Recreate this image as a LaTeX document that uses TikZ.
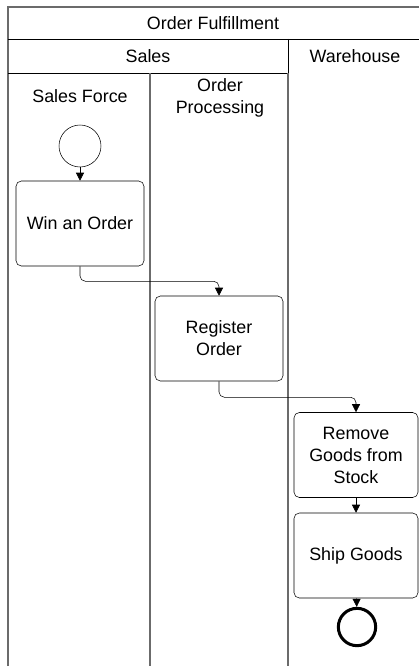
\documentclass[tikz,border=0pt]{standalone}
\usepackage{fontspec}
\setmainfont{Liberation Sans}
\usetikzlibrary{arrows.meta}
\definecolor{lanegray}{gray}{0.42}

\begin{document}
\begin{tikzpicture}[x=0.75pt, y=-0.75pt, >={Triangle[length=6pt,width=6pt]},
    lbl/.style={font=\fontsize{13.4}{16.5}\selectfont, align=center, inner sep=0pt},
    task/.style={lbl, draw, rounded corners=4pt, minimum height=63.75pt},
    flow/.style={->, rounded corners=4pt}]
    \useasboundingbox (0,0) rectangle (419,667);
    % pool and lanes
    \draw[lanegray, line width=1.5pt] (8,666) -- (8,7) -- (419,7);
    \draw (8,39) -- (419,39);
    \draw (8,73) -- (288,73);
    \draw (288,39) -- (288,73);
    \draw[lanegray, line width=1.5pt] (288,73) -- (288,666);
    \draw[lanegray, line width=1.5pt] (150,73) -- (150,666);
    \node[lbl] (pool) at (213,23) {Order Fulfillment};
    \node[lbl] (sales) at (148,56) {Sales};
    \node[lbl] (warehouse) at (355,56) {Warehouse};
    \node[lbl] (force) at (80,96) {Sales Force};
    \node[lbl] (processing) at (220,98) {Order\\Processing};
    % events and tasks
    \node[draw, circle, minimum size=31.5pt, inner sep=0pt] (start) at (80,146) {};
    \node[task, minimum width=96pt] (win) at (80,223.5) {Win an Order};
    \node[task, minimum width=96pt] (register) at (219,338.5) {Register\\Order};
    \node[task, minimum width=93pt] (remove) at (356,455) {Remove\\Goods from\\Stock};
    \node[task, minimum width=93pt] (ship) at (356,555.5) {Ship Goods};
    \node[draw, circle, line width=2.25pt, minimum size=28pt, inner sep=0pt] (stop) at (357,627) {};
    % sequence flows
    \draw[->] (start) -- (win);
    \draw[flow] (win.south) -- ++(0,15) -| (register.north);
    \draw[flow] (register.south) -- ++(0,16) -| (remove.north);
    \draw[->] (remove) -- (ship);
    \draw[->] (ship) -- (stop);
\end{tikzpicture}
\end{document}
